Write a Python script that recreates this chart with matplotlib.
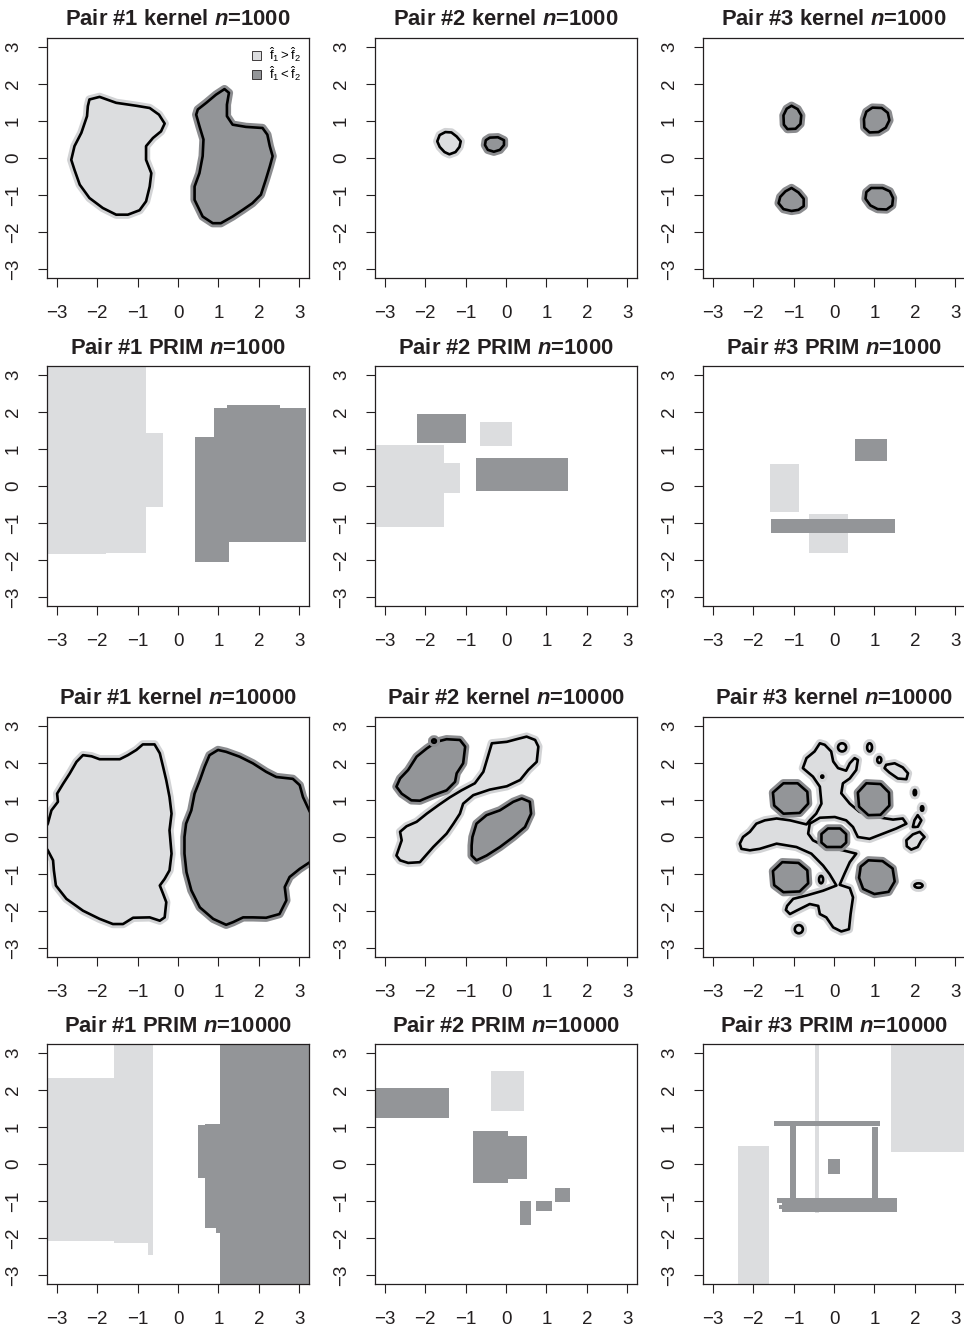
import matplotlib
matplotlib.use("Agg")
import matplotlib.pyplot as plt
import matplotlib.patheffects as pe
from matplotlib.patches import Rectangle, Ellipse, Patch

plt.rcParams["font.family"] = ["Liberation Sans", "DejaVu Sans"]
plt.rcParams["mathtext.fontset"] = "custom"
plt.rcParams["mathtext.it"] = "Liberation Sans:bold:italic"
plt.rcParams["mathtext.rm"] = "Liberation Sans"

LIGHT = "#dcdddf"
DARK = "#939598"
LIGHT_HALO = "#d2d3d5"
DARK_HALO = "#8b8c8f"
INK = "#231f20"

TICKS = [-3, -2, -1, 0, 1, 2, 3]
LIM = 3.24

# ---------------------------------------------------------------- kernel, n=1000
P1_K1000_LIGHT = [[(-2.19, 1.58), (-1.94, 1.65), (-1.53, 1.49), (-1.03, 1.41), (-0.70, 1.35),
                   (-0.47, 1.17), (-0.33, 0.93), (-0.42, 0.72), (-0.62, 0.54), (-0.79, 0.32),
                   (-0.79, -0.05), (-0.66, -0.41), (-0.70, -0.77), (-0.79, -1.17), (-0.95, -1.41),
                   (-1.24, -1.53), (-1.53, -1.53), (-1.86, -1.35), (-2.19, -1.08), (-2.43, -0.72),
                   (-2.56, -0.32), (-2.64, -0.05), (-2.56, 0.32), (-2.39, 0.68), (-2.25, 1.13),
                   (-2.23, 1.40)]]
P1_K1000_DARK = [[(0.49, 1.31), (0.70, 1.49), (0.94, 1.71), (1.15, 1.86), (1.26, 1.76),
                  (1.21, 1.44), (1.21, 1.13), (1.35, 0.90), (1.68, 0.84), (2.09, 0.81),
                  (2.21, 0.63), (2.27, 0.32), (2.34, 0.05), (2.27, -0.23), (2.17, -0.59),
                  (2.05, -0.99), (1.84, -1.22), (1.60, -1.40), (1.35, -1.58), (1.06, -1.76),
                  (0.86, -1.76), (0.61, -1.58), (0.41, -1.13), (0.41, -0.77), (0.53, -0.41),
                  (0.61, 0.05), (0.63, 0.50), (0.53, 0.86), (0.45, 1.17)]]

P2_K1000_LIGHT = [[(-1.50, 0.70), (-1.35, 0.69), (-1.22, 0.58), (-1.12, 0.45), (-1.15, 0.30),
                   (-1.25, 0.16), (-1.40, 0.10), (-1.52, 0.16), (-1.64, 0.30), (-1.70, 0.45),
                   (-1.64, 0.62)]]
P2_K1000_DARK = [[(-0.40, 0.55), (-0.20, 0.56), (-0.05, 0.48), (-0.05, 0.35), (-0.15, 0.22),
                  (-0.30, 0.17), (-0.45, 0.22), (-0.52, 0.35), (-0.50, 0.48)]]

P3_K1000_LIGHT = []
P3_K1000_DARK = [
    [(-1.05, 1.41), (-0.90, 1.32), (-0.81, 1.15), (-0.83, 0.92), (-0.95, 0.79), (-1.15, 0.78),
     (-1.24, 0.90), (-1.25, 1.15), (-1.17, 1.33)],
    [(0.95, 1.36), (1.18, 1.35), (1.33, 1.22), (1.37, 1.02), (1.28, 0.82), (1.10, 0.70),
     (0.88, 0.69), (0.75, 0.82), (0.74, 1.05), (0.80, 1.25)],
    [(-1.05, -0.81), (-0.88, -0.93), (-0.75, -1.10), (-0.75, -1.30), (-0.88, -1.40),
     (-1.05, -1.43), (-1.25, -1.38), (-1.37, -1.22), (-1.33, -1.05), (-1.20, -0.90)],
    [(0.92, -0.81), (1.20, -0.81), (1.38, -0.90), (1.46, -1.08), (1.44, -1.28), (1.30, -1.39),
     (1.08, -1.38), (0.90, -1.28), (0.78, -1.10), (0.80, -0.92)],
]

# ---------------------------------------------------------------- PRIM boxes, n=1000
# boxes are (x0, x1, y0, y1)
P1_PRIM1000_LIGHT = [(-3.4, -1.79, -1.84, 3.4), (-1.79, -0.78, -1.80, 3.4), (-0.78, -0.36, -0.58, 1.42)]
P1_PRIM1000_DARK = [(0.41, 0.88, -2.04, 1.33), (0.88, 1.20, -2.04, 2.11), (1.20, 1.27, -2.04, 2.19),
                    (1.27, 2.52, -1.52, 2.19), (2.52, 3.17, -1.52, 2.11)]

P2_PRIM1000_LIGHT = [(-0.64, 0.15, 1.08, 1.73), (-3.4, -1.53, -1.10, 1.11), (-1.53, -1.14, -0.18, 0.62)]
P2_PRIM1000_DARK = [(-2.21, -0.99, 1.17, 1.95), (-0.73, 1.53, -0.13, 0.76)]

P3_PRIM1000_LIGHT = [(-1.59, -0.86, -0.70, 0.59), (-0.63, 0.34, -1.80, -0.76)]
P3_PRIM1000_DARK = [(0.53, 1.32, 0.68, 1.27), (-1.56, 1.52, -1.26, -0.89)]

# ---------------------------------------------------------------- kernel, n=10000
P1_K10000_LIGHT = [[(-3.35, 0.10), (-3.22, 0.36), (-3.13, 0.72), (-2.97, 0.95), (-2.99, 1.17),
                    (-2.84, 1.44), (-2.68, 1.71), (-2.51, 2.03), (-2.35, 2.21), (-2.14, 2.18),
                    (-1.94, 2.10), (-1.44, 2.10), (-1.24, 2.21), (-1.03, 2.35), (-0.87, 2.50),
                    (-0.58, 2.50), (-0.45, 2.26), (-0.37, 1.90), (-0.29, 1.53), (-0.21, 1.08),
                    (-0.16, 0.63), (-0.21, 0.18), (-0.16, -0.45), (-0.21, -0.90), (-0.33, -1.13),
                    (-0.45, -1.31), (-0.37, -1.53), (-0.29, -1.76), (-0.33, -2.17), (-0.45, -2.26),
                    (-0.70, -2.17), (-1.11, -2.18), (-1.36, -2.35), (-1.61, -2.35), (-1.94, -2.21),
                    (-2.35, -1.99), (-2.76, -1.67), (-3.02, -1.31), (-3.07, -0.90), (-3.09, -0.63),
                    (-3.22, -0.36), (-3.35, -0.15)]]
P1_K10000_DARK = [[(0.16, 0.00), (0.20, 0.36), (0.33, 0.72), (0.41, 1.17), (0.54, 1.53),
                   (0.66, 1.90), (0.78, 2.21), (0.99, 2.35), (1.19, 2.30), (1.52, 2.17),
                   (1.85, 1.99), (2.18, 1.76), (2.43, 1.62), (2.84, 1.57), (3.01, 1.40),
                   (3.09, 1.08), (3.26, 0.68), (3.40, 0.60), (3.40, -0.60), (3.26, -0.68),
                   (3.01, -0.86), (2.76, -1.08), (2.64, -1.35), (2.68, -1.71), (2.51, -2.08),
                   (2.18, -2.18), (1.85, -2.17), (1.61, -2.17), (1.36, -2.30), (1.19, -2.37),
                   (0.87, -2.21), (0.54, -1.90), (0.33, -1.44), (0.21, -0.95), (0.16, -0.45)]]

P2_K10000_LIGHT = [[(-2.71, -0.50), (-2.58, -0.09), (-2.62, 0.14), (-2.46, 0.29), (-2.21, 0.41),
                    (-1.96, 0.63), (-1.67, 0.86), (-1.39, 1.07), (-1.10, 1.26), (-0.77, 1.45),
                    (-0.56, 1.76), (-0.35, 2.53), (0.02, 2.57), (0.26, 2.64), (0.51, 2.71),
                    (0.72, 2.62), (0.80, 2.44), (0.76, 2.03), (0.55, 1.81), (0.35, 1.54),
                    (0.02, 1.37), (-0.40, 1.28), (-0.81, 1.13), (-1.06, 0.90), (-1.14, 0.63),
                    (-1.30, 0.36), (-1.47, 0.09), (-1.80, -0.27), (-2.13, -0.68), (-2.42, -0.70),
                    (-2.62, -0.63)]]
P2_K10000_DARK = [
    [(-2.71, 1.36), (-2.62, 1.58), (-2.42, 1.81), (-2.21, 2.17), (-1.96, 2.39), (-1.72, 2.57),
     (-1.47, 2.64), (-1.14, 2.62), (-1.01, 2.44), (-1.06, 1.99), (-1.22, 1.72), (-1.26, 1.49),
     (-1.47, 1.26), (-1.80, 1.13), (-2.13, 0.98), (-2.34, 0.99), (-2.58, 1.17)],
    [(-0.83, 0.00), (-0.73, 0.36), (-0.48, 0.59), (-0.15, 0.72), (0.18, 0.95), (0.39, 1.04),
     (0.59, 0.95), (0.62, 0.63), (0.47, 0.27), (0.18, 0.00), (-0.15, -0.27), (-0.48, -0.50),
     (-0.73, -0.63), (-0.85, -0.50), (-0.85, -0.23)],
]
# small isolated spots: (x, y, width, height)
P2_K10000_DARK_SPOTS = [(-1.78, 2.59, 0.09, 0.09)]

P3_K10000_LIGHT = [
    [(-2.33, -0.18), (-2.25, 0.00), (-2.08, 0.14), (-1.92, 0.36), (-1.71, 0.45), (-1.42, 0.50),
     (-1.09, 0.45), (-0.68, 0.34), (-0.60, 0.45), (-0.44, 0.63), (-0.31, 0.90), (-0.35, 1.36),
     (-0.52, 1.63), (-0.77, 1.86), (-0.68, 2.13), (-0.48, 2.31), (-0.35, 2.53), (-0.23, 2.49),
     (-0.07, 2.31), (-0.02, 2.04), (0.10, 1.86), (0.30, 1.79), (0.39, 1.99), (0.51, 2.13),
     (0.59, 2.08), (0.55, 1.81), (0.39, 1.58), (0.22, 1.45), (0.18, 1.18), (0.39, 0.90),
     (0.63, 0.68), (1.05, 0.54), (1.46, 0.47), (1.70, 0.50), (1.79, 0.36), (1.54, 0.23),
     (1.21, 0.09), (0.88, -0.05), (0.59, 0.00), (0.47, 0.27), (0.30, 0.45), (0.02, 0.54),
     (-0.35, 0.52), (-0.60, 0.36), (-0.64, 0.09), (-0.52, -0.09), (-0.19, -0.27), (0.22, -0.36),
     (0.55, -0.45), (0.39, -0.68), (0.26, -0.99), (0.14, -1.29), (0.39, -1.38), (0.47, -1.63),
     (0.41, -2.08), (0.37, -2.49), (0.18, -2.55), (-0.02, -2.44), (-0.19, -2.17), (-0.35, -2.08),
     (-0.39, -1.86), (-0.60, -1.81), (-0.93, -1.99), (-1.09, -2.08), (-1.19, -1.97), (-1.16, -1.86),
     (-1.01, -1.67), (-0.68, -1.58), (-0.27, -1.45), (0.06, -1.31), (-0.11, -1.00), (-0.27, -0.77),
     (-0.56, -0.45), (-0.93, -0.27), (-1.42, -0.18), (-1.84, -0.32), (-2.08, -0.36), (-2.29, -0.32)],
    [(1.29, 1.95), (1.50, 1.99), (1.70, 1.88), (1.83, 1.72), (1.79, 1.56), (1.58, 1.58),
     (1.37, 1.74), (1.25, 1.86)],
    [(2.07, 0.59), (2.16, 0.45), (2.07, 0.27), (1.95, 0.27), (1.99, 0.45)],
    [(1.79, -0.09), (1.95, 0.07), (2.12, 0.14), (2.24, 0.00), (2.16, -0.09), (2.07, -0.27),
     (1.91, -0.34), (1.80, -0.25)],
]
P3_K10000_LIGHT_SPOTS = [(0.20, 2.42, 0.20, 0.22), (0.88, 2.42, 0.12, 0.22), (1.12, 2.08, 0.10, 0.16),
                         (2.09, -1.31, 0.20, 0.12), (-0.87, -2.49, 0.20, 0.22), (-0.32, -1.15, 0.10, 0.20),
                         (2.00, 1.20, 0.06, 0.14), (2.18, 0.77, 0.06, 0.12), (-0.29, 1.63, 0.05, 0.06)]
P3_K10000_DARK = [
    [(-1.25, 1.45), (-0.90, 1.45), (-0.66, 1.22), (-0.64, 0.90), (-0.85, 0.65), (-1.25, 0.63),
     (-1.48, 0.85), (-1.51, 1.20)],
    [(0.80, 1.45), (1.15, 1.43), (1.36, 1.20), (1.37, 0.85), (1.15, 0.60), (0.85, 0.59),
     (0.62, 0.82), (0.59, 1.20)],
    [(-0.15, 0.23), (0.15, 0.23), (0.30, 0.08), (0.30, -0.15), (0.18, -0.27), (-0.18, -0.27),
     (-0.31, -0.15), (-0.31, 0.08)],
    [(-1.28, -0.68), (-0.88, -0.70), (-0.66, -0.90), (-0.64, -1.25), (-0.85, -1.47), (-1.25, -1.49),
     (-1.48, -1.30), (-1.51, -0.92)],
    [(0.85, -0.63), (1.20, -0.65), (1.45, -0.85), (1.50, -1.20), (1.35, -1.48), (1.00, -1.54),
     (0.72, -1.40), (0.62, -1.10), (0.66, -0.80)],
]

# ---------------------------------------------------------------- PRIM boxes, n=10000
P1_PRIM10000_LIGHT = [(-3.4, -1.58, -2.09, 2.32), (-1.58, -0.62, -2.13, 3.4), (-0.73, -0.62, -2.45, -2.0)]
P1_PRIM10000_DARK = [(0.49, 1.06, -0.38, 1.05), (0.68, 1.06, -1.73, 1.08), (0.93, 1.06, -1.86, 1.08),
                     (1.05, 3.4, -3.4, 3.4)]

P2_PRIM10000_LIGHT = [(-0.37, 0.44, 1.44, 2.51)]
P2_PRIM10000_DARK = [(-3.4, -1.41, 1.25, 2.05), (-0.82, 0.04, -0.51, 0.89), (0.04, 0.52, -0.40, 0.75),
                     (0.35, 0.62, -1.64, -1.00), (0.74, 1.14, -1.28, -1.00), (1.21, 1.58, -1.02, -0.65)]

P3_PRIM10000_LIGHT = [(-0.48, -0.38, -1.33, 3.4), (1.40, 3.4, 0.33, 3.4), (-2.38, -1.61, -3.4, 0.49)]
P3_PRIM10000_DARK = [(-1.49, 1.14, 1.03, 1.16), (-1.09, -0.95, -0.99, 1.03), (0.95, 1.10, -0.99, 1.01),
                     (-0.15, 0.14, -0.26, 0.13), (-1.28, 1.56, -1.30, -0.92), (-1.41, -1.28, -1.06, -0.92),
                     (-1.35, -1.28, -1.22, -1.12)]

TITLES = [
    ["Pair #1 kernel", "Pair #2 kernel", "Pair #3 kernel"],
    ["Pair #1 PRIM", "Pair #2 PRIM", "Pair #3 PRIM"],
    ["Pair #1 kernel", "Pair #2 kernel", "Pair #3 kernel"],
    ["Pair #1 PRIM", "Pair #2 PRIM", "Pair #3 PRIM"],
]
SAMPLE_SIZES = [1000, 1000, 10000, 10000]

KERNEL_PANELS = {
    (0, 0): (P1_K1000_LIGHT, P1_K1000_DARK, [], []),
    (0, 1): (P2_K1000_LIGHT, P2_K1000_DARK, [], []),
    (0, 2): (P3_K1000_LIGHT, P3_K1000_DARK, [], []),
    (2, 0): (P1_K10000_LIGHT, P1_K10000_DARK, [], []),
    (2, 1): (P2_K10000_LIGHT, P2_K10000_DARK, [], P2_K10000_DARK_SPOTS),
    (2, 2): (P3_K10000_LIGHT, P3_K10000_DARK, P3_K10000_LIGHT_SPOTS, []),
}
PRIM_PANELS = {
    (1, 0): (P1_PRIM1000_LIGHT, P1_PRIM1000_DARK),
    (1, 1): (P2_PRIM1000_LIGHT, P2_PRIM1000_DARK),
    (1, 2): (P3_PRIM1000_LIGHT, P3_PRIM1000_DARK),
    (3, 0): (P1_PRIM10000_LIGHT, P1_PRIM10000_DARK),
    (3, 1): (P2_PRIM10000_LIGHT, P2_PRIM10000_DARK),
    (3, 2): (P3_PRIM10000_LIGHT, P3_PRIM10000_DARK),
}


def halo(color):
    return [pe.Stroke(linewidth=6.0, foreground=color), pe.Normal()]


def draw_blobs(ax, shapes, spots, face, ring):
    for pts in shapes:
        poly, = ax.fill([p[0] for p in pts], [p[1] for p in pts],
                        facecolor=face, edgecolor="black", linewidth=1.9, joinstyle="round")
        poly.set_path_effects(halo(ring))
    for x, y, w, h in spots:
        e = Ellipse((x, y), w, h, facecolor=face, edgecolor="black", linewidth=1.9)
        e.set_path_effects(halo(ring))
        ax.add_patch(e)


def draw_boxes(ax, boxes, face):
    for x0, x1, y0, y1 in boxes:
        ax.add_patch(Rectangle((x0, y0), x1 - x0, y1 - y0, facecolor=face, edgecolor="none"))


def style_axes(ax, title):
    ax.set_xlim(-LIM, LIM)
    ax.set_ylim(-LIM, LIM)
    ax.set_xticks(TICKS)
    ax.set_yticks(TICKS)
    ax.tick_params(direction="out", length=6.5, width=0.8, labelsize=13.5, colors=INK)
    ax.tick_params(axis="x", pad=13)
    ax.tick_params(axis="y", pad=11.5, labelrotation=90)
    for lab in ax.get_yticklabels():
        lab.set_va("center")
    for sp in ax.spines.values():
        sp.set_linewidth(0.9)
        sp.set_color(INK)
    ax.set_title(title, fontsize=15.8, fontweight="bold", color=INK, pad=9)


fig = plt.figure(figsize=(9.64, 13.28), dpi=100)
W, H = 964, 1328
col_left = [47, 375, 703]
row_top = [38, 366, 717, 1044]
pw, ph = 262, 240

for r in range(4):
    for c in range(3):
        ax = fig.add_axes([col_left[c] / W, 1 - (row_top[r] + ph) / H, pw / W, ph / H])
        if (r, c) in KERNEL_PANELS:
            light, dark, light_spots, dark_spots = KERNEL_PANELS[(r, c)]
            draw_blobs(ax, light, light_spots, LIGHT, LIGHT_HALO)
            draw_blobs(ax, dark, dark_spots, DARK, DARK_HALO)
        else:
            light, dark = PRIM_PANELS[(r, c)]
            draw_boxes(ax, light, LIGHT)
            draw_boxes(ax, dark, DARK)
        style_axes(ax, f"{TITLES[r][c]} $n$=" + str(SAMPLE_SIZES[r]))
        if (r, c) == (0, 0):
            handles = [Patch(facecolor=LIGHT, edgecolor=INK, linewidth=0.6,
                             label=r"$\hat{\mathrm{f}}_1 > \hat{\mathrm{f}}_2$"),
                       Patch(facecolor=DARK, edgecolor=INK, linewidth=0.6,
                             label=r"$\hat{\mathrm{f}}_1 < \hat{\mathrm{f}}_2$")]
            ax.legend(handles=handles, loc="upper right", frameon=False, fontsize=9.5,
                      handlelength=0.7, handleheight=0.7, handletextpad=0.6,
                      labelspacing=0.05, borderaxespad=0.15)

fig.savefig("out.png", dpi=100)
